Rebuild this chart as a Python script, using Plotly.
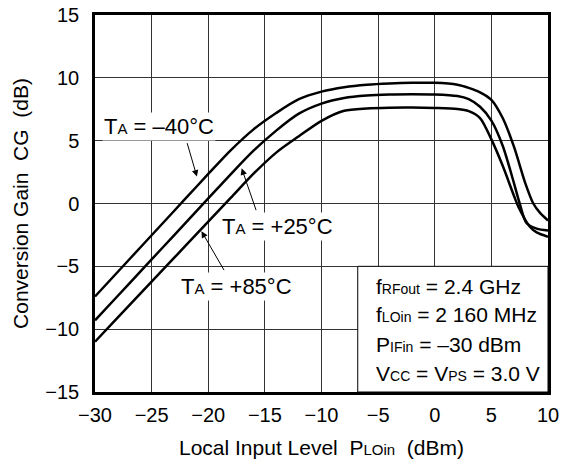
import plotly.graph_objects as go

# Local input level (dBm) and conversion gain (dB) for three ambient temperatures
x_m40 = [-30, -28, -26, -24, -22, -20, -18, -16, -14, -12, -10, -8, -6, -4, -2, 0, 2, 3, 4, 5, 6, 7, 8, 8.7, 9.3, 10]
cg_m40 = [-7.4, -5.45, -3.5, -1.55, 0.4, 2.35, 4.25, 5.9, 7.2, 8.3, 8.9, 9.25, 9.45, 9.55, 9.6, 9.6, 9.45, 9.2, 8.85, 8.25, 6.8, 4.5, 1.6, 0.0, -0.75, -1.35]

x_p25 = [-30, -28, -26, -24, -22, -20, -18, -16, -14, -12, -10, -8, -6, -4, -2, 0, 2, 3, 4, 5, 6, 7, 7.5, 8.1, 9, 10]
cg_p25 = [-9.3, -7.36, -5.42, -3.48, -1.54, 0.4, 2.34, 4.2, 5.8, 7.15, 7.95, 8.4, 8.6, 8.68, 8.7, 8.68, 8.55, 8.3, 7.7, 6.6, 4.6, 1.6, 0.0, -1.55, -2.0, -2.15]

x_p85 = [-30, -28, -26, -24, -22, -20, -18, -16, -14, -12, -10, -8, -6, -4, -2, 0, 2, 3, 4, 5, 6, 7, 7.4, 8.4, 9, 10]
cg_p85 = [-11.0, -9.09, -7.18, -5.27, -3.36, -1.45, 0.46, 2.37, 4.05, 5.35, 6.58, 7.38, 7.56, 7.62, 7.63, 7.6, 7.52, 7.35, 6.8, 5.1, 3.0, 0.6, -0.3, -1.85, -2.3, -2.65]

x_ticks = [-30, -25, -20, -15, -10, -5, 0, 5, 10]
y_ticks = [-15, -10, -5, 0, 5, 10, 15]

FONT = "Liberation Sans, Arial, sans-serif"


def small(s, size=14):
    return f"<span style='font-size:{size}px'>{s}</span>"


fig = go.Figure()
for xs, ys in [(x_m40, cg_m40), (x_p25, cg_p25), (x_p85, cg_p85)]:
    fig.add_trace(go.Scatter(x=xs, y=ys, mode="lines",
                             line=dict(color="black", width=2.5, shape="spline", smoothing=0.8),
                             showlegend=False, hoverinfo="skip"))

# condition box in the lower right corner
fig.add_shape(type="rect", x0=-6.8, x1=10, y0=-15, y1=-5, xref="x", yref="y",
              fillcolor="white", line=dict(color="black", width=1), layer="above")

cond = [
    ("f" + small("RFout") + " = 2.4 GHz", -6.61),
    ("f" + small("LOin") + " = 2 160 MHz", -8.87),
    ("P" + small("IFin") + " = \u201330 dBm", -11.25),
    ("V" + small("CC") + " = V" + small("PS") + " = 3.0 V", -13.5),
]
for txt, yy in cond:
    fig.add_annotation(x=-5.35, y=yy, text=txt, showarrow=False, xanchor="left",
                       yanchor="middle", font=dict(size=21, color="black", family=FONT))

# temperature labels
labels = [
    ("T" + small("A", 15) + " = \u201340\u00b0C", -24.35, 6.09),
    ("T" + small("A", 15) + " = +25\u00b0C", -13.85, -1.84),
    ("T" + small("A", 15) + " = +85\u00b0C", -17.51, -6.61),
]
for txt, xx, yy in labels:
    fig.add_annotation(x=xx, y=yy, text=txt, showarrow=False, bgcolor="white",
                       font=dict(size=22, color="black", family=FONT))

# leader arrows (head on curve, tail near label)
arrows = [(-21.0, 2.14, -21.9, 4.92), (-17.05, 2.8, -15.73, -0.65), (-20.6, -2.2, -18.53, -5.42)]
for hx, hy, tx, ty in arrows:
    fig.add_annotation(x=hx, y=hy, ax=tx, ay=ty, xref="x", yref="y", axref="x", ayref="y",
                       text="", showarrow=True, arrowhead=2, arrowsize=1.3, arrowwidth=1,
                       arrowcolor="black")

axis_common = dict(showgrid=True, gridcolor="#333333", gridwidth=1, zeroline=False,
                   showline=True, linecolor="black", linewidth=2.5, mirror=True,
                   ticks="", tickfont=dict(size=20, color="black", family=FONT),
                   automargin=False)

fig.update_xaxes(range=[-30, 10], tickvals=x_ticks, ticklabelstandoff=3, **axis_common,
                 title=dict(text="Local Input Level  P" + small("LOin", 15) + "  (dBm)",
                            font=dict(size=21, color="black", family=FONT), standoff=16))
fig.update_yaxes(range=[-15, 15], tickvals=y_ticks, ticklabelstandoff=9, **axis_common,
                 title=dict(text="Conversion Gain  CG  (dB)",
                            font=dict(size=21, color="black", family=FONT), standoff=11))

fig.update_layout(width=563, height=470, margin=dict(l=95, r=15, t=15, b=78),
                  plot_bgcolor="white", paper_bgcolor="white", font=dict(family=FONT))

fig.write_html("out.html", config={"displayModeBar": False},
               post_script="document.body.style.margin='0';")
